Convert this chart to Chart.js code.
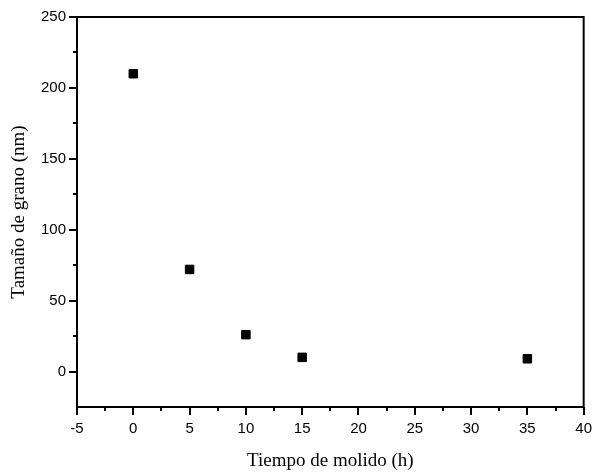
<!DOCTYPE html>
<html>
<head>
<meta charset="utf-8">
<script src="https://cdn.jsdelivr.net/npm/chart.js@4.4.0/dist/chart.umd.min.js"></script>
<style>
  html, body { margin: 0; padding: 0; background: #fff; }
  #wrap { width: 597px; height: 473px; }
</style>
</head>
<body>
<div id="wrap"><canvas id="grano"></canvas></div>
<script>
// tiempo de molido (h) y tamaño de grano (nm)
var tiempos = [0, 5, 10, 15, 35];
var tamanos = [210, 72, 26, 10, 9];

var xMin = -5, xMax = 40, xPaso = 5;
var yMin = -25, yMax = 250, yPaso = 50;

var puntos = tiempos.map(function (t, i) { return { x: t, y: tamanos[i] }; });

// marco y ticks menores (Chart.js no trae ticks menores)
var marcoPlugin = {
  id: 'marco',
  afterDraw: function (chart) {
    var ctx = chart.ctx, a = chart.chartArea;
    var sx = chart.scales.x, sy = chart.scales.y;
    ctx.save();
    ctx.strokeStyle = '#000';
    ctx.lineWidth = 2;
    ctx.strokeRect(a.left, a.top, a.right - a.left, a.bottom - a.top);
    ctx.beginPath();
    for (var v = xMin + xPaso / 2; v < xMax; v += xPaso) {
      var px = Math.round(sx.getPixelForValue(v));
      ctx.moveTo(px, a.bottom);
      ctx.lineTo(px, a.bottom + 4);
    }
    for (var w = yMin; w < yMax; w += yPaso / 2) {
      if (w % yPaso === 0 || w === yMin) continue;
      var py = Math.round(sy.getPixelForValue(w));
      ctx.moveTo(a.left, py);
      ctx.lineTo(a.left - 4, py);
    }
    ctx.stroke();
    ctx.restore();
  }
};

new Chart(document.getElementById('grano'), {
  type: 'scatter',
  data: {
    datasets: [{
      data: puntos,
      pointStyle: 'rect',
      pointRadius: 6,
      pointHoverRadius: 6,
      backgroundColor: '#000',
      borderColor: '#000',
      borderWidth: 1
    }]
  },
  options: {
    responsive: true,
    maintainAspectRatio: false,
    animation: false,
    layout: { padding: { left: 0, right: 12, top: 17, bottom: 0 } },
    plugins: {
      legend: { display: false },
      tooltip: { enabled: false }
    },
    scales: {
      x: {
        type: 'linear',
        min: xMin,
        max: xMax,
        afterFit: function (s) { s.height = 66; },
        border: { display: false },
        grid: { drawOnChartArea: false, drawTicks: true, tickLength: 8, tickColor: '#000', lineWidth: 2 },
        ticks: {
          stepSize: xPaso,
          color: '#000',
          padding: 5,
          maxRotation: 0,
          font: { family: 'Liberation Sans, Arial, sans-serif', size: 15 }
        },
        title: {
          display: true,
          text: 'Tiempo de molido (h)',
          color: '#000',
          padding: { top: 0, bottom: 1 },
          font: { family: 'Liberation Serif, Times New Roman, serif', size: 19 }
        }
      },
      y: {
        type: 'linear',
        min: yMin,
        max: yMax,
        afterFit: function (s) { s.width = 77; },
        afterBuildTicks: function (s) {
          s.ticks = s.ticks.filter(function (t) { return t.value % yPaso === 0; });
        },
        border: { display: false },
        grid: { drawOnChartArea: false, drawTicks: true, tickLength: 8, tickColor: '#000', lineWidth: 2 },
        ticks: {
          stepSize: yPaso / 2,
          color: '#000',
          padding: 3,
          font: { family: 'Liberation Sans, Arial, sans-serif', size: 15 }
        },
        title: {
          display: true,
          text: 'Tamaño de grano (nm)',
          color: '#000',
          padding: { top: 8, bottom: 0 },
          font: { family: 'Liberation Serif, Times New Roman, serif', size: 19 }
        }
      }
    }
  },
  plugins: [marcoPlugin]
});
</script>
</body>
</html>
